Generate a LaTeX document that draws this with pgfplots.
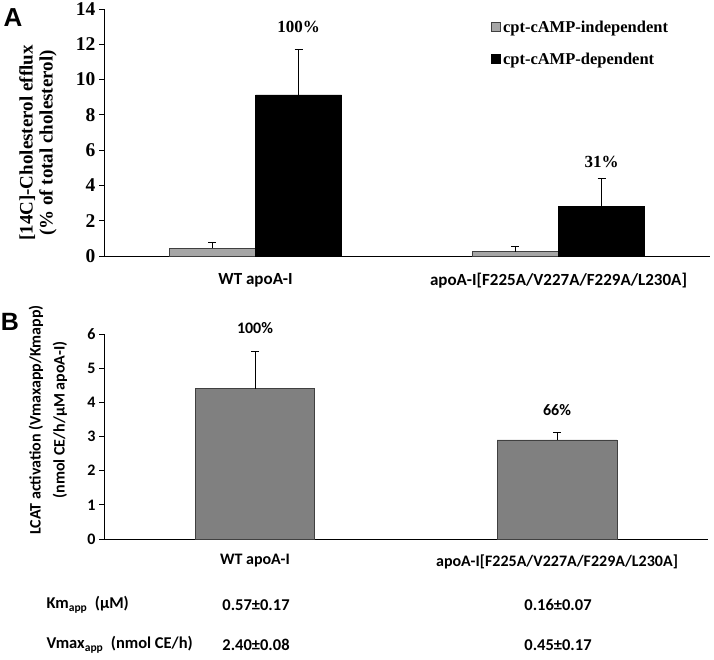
\documentclass[border=0pt]{standalone}
\usepackage{fontspec}
\setmainfont{Liberation Serif}
\newfontfamily\calfont{Carlito}
\newfontfamily\arialfont{Liberation Sans}
\usepackage{pgfplots}
\pgfplotsset{compat=1.18}
\definecolor{lgray}{HTML}{A6A6A6}
\definecolor{mgray}{HTML}{808080}
\definecolor{dgray}{HTML}{404040}
\begin{document}
\begin{tikzpicture}[x=1pt,y=1pt]
\useasboundingbox (0,0) rectangle (714,-659);
% ---------------- Panel A ----------------
\begin{axis}[
  at={(104pt,-256pt)}, anchor=south west, scale only axis,
  width=606pt, height=247pt,
  xmin=-0.5, xmax=1.5, ymin=0, ymax=14,
  clip=false,
  axis lines=left, axis line style={-, black, line width=0.8pt},
  ytick={0,2,...,14}, xtick={0,1},
  xticklabels={WT apoA-I, apoA-I[F225A/V227A/F229A/L230A]},
  x tick style={draw=none},
  y tick style={black, line width=0.8pt}, tick align=outside, major tick length=5pt,
  yticklabel style={font=\bfseries\fontsize{19.5}{19.5}\selectfont},
  xticklabel style={font=\calfont\bfseries\fontsize{17}{17}\selectfont, yshift=-9pt},
  /pgf/number format/assume math mode=true,
  ybar=0pt, bar width=0.284,
  legend style={draw=none, fill=none, at={(rel axis cs:0.634,0.97)}, anchor=north west,
    font=\bfseries\fontsize{16.5}{16.5}\selectfont, row sep=15pt, legend cell align=left},
  legend image code/.code={\draw[#1, line width=0.6pt] (0pt,-4pt) rectangle (9pt,5pt);},
]
\addplot[fill=lgray, draw=dgray, line width=0.6pt,
  error bars/.cd, y dir=plus, y explicit,
  error bar style={black, line width=0.6pt},
  error mark options={rotate=90, black, mark size=4pt, line width=0.6pt}]
  coordinates {(0,0.44) +- (0,0.31) (1,0.24) +- (0,0.29)};
\addplot[fill=black, draw=black, line width=0.6pt,
  error bars/.cd, y dir=plus, y explicit,
  error bar style={black, line width=0.6pt},
  error mark options={rotate=90, black, mark size=4pt, line width=0.6pt}]
  coordinates {(0,9.13) +- (0,2.57) (1,2.80) +- (0,1.58)};
\legend{cpt-cAMP-independent, cpt-cAMP-dependent}
\node[font=\bfseries\fontsize{17}{17}\selectfont] at (axis cs:0.142,12.98) {100\%};
\node[font=\bfseries\fontsize{17}{17}\selectfont] at (axis cs:1.142,5.33) {31\%};
\end{axis}
% ---------------- Panel B ----------------
\begin{axis}[
  at={(104pt,-539pt)}, anchor=south west, scale only axis,
  width=604pt, height=205pt,
  xmin=-0.5, xmax=1.5, ymin=0, ymax=6,
  clip=false,
  axis lines=left, axis line style={-, black, line width=0.8pt},
  ytick={0,1,...,6}, xtick={0,1},
  xticklabels={WT apoA-I, apoA-I[F225A/V227A/F229A/L230A]},
  x tick style={draw=none},
  y tick style={black, line width=0.8pt}, tick align=outside, major tick length=5pt,
  yticklabel style={font=\calfont\bfseries\fontsize{16}{16}\selectfont},
  xticklabel style={font=\calfont\bfseries\fontsize{16}{16}\selectfont, yshift=-7pt},
  /pgf/number format/assume math mode=true,
  ybar, bar width=0.396,
]
\addplot[fill=mgray, draw=dgray, line width=0.6pt,
  error bars/.cd, y dir=plus, y explicit,
  error bar style={black, line width=0.6pt},
  error mark options={rotate=90, black, mark size=4pt, line width=0.6pt}]
  coordinates {(0,4.40) +- (0,1.10) (1,2.90) +- (0,0.22)};
\node[font=\calfont\bfseries\fontsize{16}{16}\selectfont] at (axis cs:0,6.17) {100\%};
\node[font=\calfont\bfseries\fontsize{16}{16}\selectfont] at (axis cs:1,3.78) {66\%};
\end{axis}
% ---------------- labels ----------------
\node[font=\arialfont\bfseries\fontsize{26}{26}\selectfont] at (13,-18) {A};
\node[font=\arialfont\bfseries\fontsize{25}{25}\selectfont] at (10,-322) {B};
\node[rotate=90, align=center, font=\bfseries\fontsize{19}{20}\selectfont] at (38,-143)
  {[14C]-Cholesterol efflux\\(\% of total cholesterol)};
\node[rotate=90, align=center, font=\calfont\bfseries\fontsize{16}{24}\selectfont] at (48,-420)
  {LCAT activation (Vmaxapp/Kmapp)\\(nmol CE/h/μM apoA-I)};
\begin{scope}[font=\calfont\bfseries\fontsize{16.5}{16.5}\selectfont]
\node[anchor=west] at (43,-605) {Km\textsubscript{app}\ \ (μM)};
\node at (256,-605) {0.57±0.17};
\node at (558,-605) {0.16±0.07};
\node[anchor=west] at (43,-645) {Vmax\textsubscript{app}\ \ (nmol CE/h)};
\node at (256,-645) {2.40±0.08};
\node at (558,-645) {0.45±0.17};
\end{scope}
\end{tikzpicture}
\end{document}
